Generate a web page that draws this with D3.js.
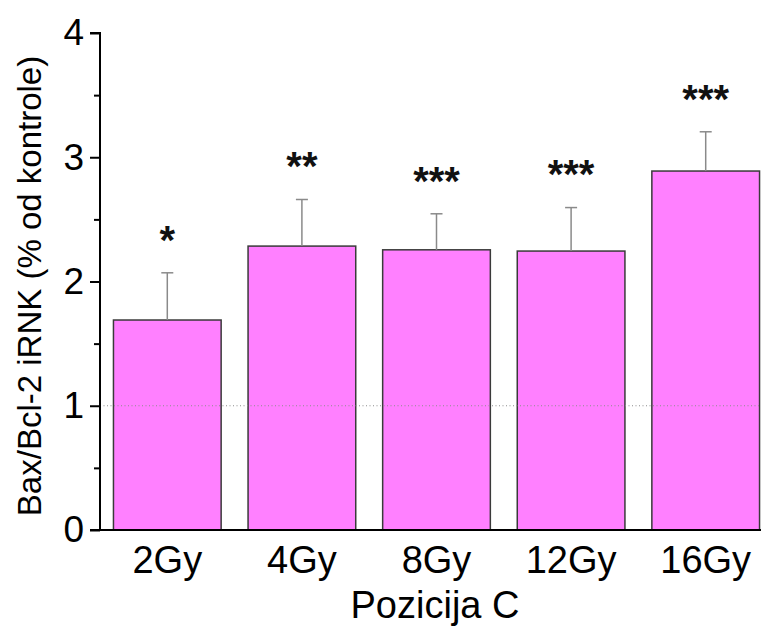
<!DOCTYPE html>
<html>
<head>
<meta charset="utf-8">
<script src="https://cdn.jsdelivr.net/npm/d3@7/dist/d3.min.js"></script>
<style>
  html, body { margin: 0; padding: 0; background: #fff; }
  svg { display: block; font-family: Arial, "Liberation Sans", sans-serif; }
</style>
</head>
<body>
<svg id="chart" width="761" height="628"></svg>
<script>
const categories = ["2Gy", "4Gy", "8Gy", "12Gy", "16Gy"];
const values = [1.69, 2.285, 2.255, 2.245, 2.889];
const errorTops = [2.07, 2.66, 2.545, 2.595, 3.205];
const significance = ["*", "**", "***", "***", "***"];
const yTicks = [0, 1, 2, 3, 4];
const yMinorTicks = [0.5, 1.5, 2.5, 3.5];
const referenceValue = 1;
const xTitle = "Pozicija C";
const yTitle = "Bax/Bcl-2 iRNK (% od kontrole)";

const svg = d3.select("#chart");
const W = 761, H = 628;
const x0 = 100, yBase = 530, yTop = 33;

const x = d3.scaleBand().domain(categories).range([x0, 773]).paddingInner(0.2).paddingOuter(0.1);
const y = d3.scaleLinear().domain([0, 4]).range([yBase, yTop]);

// bars
svg.append("g").selectAll("rect").data(categories).join("rect")
  .attr("x", d => x(d))
  .attr("y", (d, i) => y(values[i]))
  .attr("width", x.bandwidth())
  .attr("height", (d, i) => y(0) - y(values[i]))
  .attr("fill", "#ff80ff")
  .attr("stroke", "#3a3a3a")
  .attr("stroke-width", 1.5);

// error bars (upper)
const eg = svg.append("g").attr("stroke", "#8a8a8a").attr("stroke-width", 1.5);
categories.forEach((c, i) => {
  const cx = x(c) + x.bandwidth() / 2;
  eg.append("line").attr("x1", cx).attr("x2", cx).attr("y1", y(values[i])).attr("y2", y(errorTops[i]));
  eg.append("line").attr("x1", cx - 6).attr("x2", cx + 6).attr("y1", y(errorTops[i])).attr("y2", y(errorTops[i]));
});

// reference dotted line
svg.append("line")
  .attr("x1", x0).attr("x2", W)
  .attr("y1", y(referenceValue)).attr("y2", y(referenceValue))
  .attr("stroke", "#8c8c8c").attr("stroke-width", 1).attr("stroke-dasharray", "1,2.5");

// significance stars
svg.append("g").selectAll("text").data(categories).join("text")
  .attr("x", d => x(d) + x.bandwidth() / 2)
  .attr("y", (d, i) => y(errorTops[i] + 0.34) + 23)
  .attr("text-anchor", "middle")
  .attr("font-size", 40)
  .attr("font-weight", "bold")
  .attr("fill", "#111")
  .text((d, i) => significance[i]);

// y axis
const yAxis = d3.axisLeft(y).tickValues(yTicks).tickFormat(d3.format("d")).tickSize(10).tickPadding(6);
const ya = svg.append("g").attr("transform", `translate(${x0},0)`).call(yAxis);
ya.select(".domain").attr("stroke", "#000").attr("stroke-width", 2).attr("d", `M-10,${yTop}H0V${yBase}`);
ya.selectAll(".tick line").attr("stroke", "#000").attr("stroke-width", 2);
ya.selectAll(".tick text").attr("font-size", 37).attr("fill", "#000").attr("font-family", "Arial, 'Liberation Sans', sans-serif");
const yMinor = d3.axisLeft(y).tickValues(yMinorTicks).tickFormat("").tickSize(6);
const ym = svg.append("g").attr("transform", `translate(${x0},0)`).call(yMinor);
ym.select(".domain").remove();
ym.selectAll(".tick line").attr("stroke", "#000").attr("stroke-width", 2);

// x axis
const xAxis = d3.axisBottom(x).tickSize(0).tickPadding(16);
const xa = svg.append("g").attr("transform", `translate(0,${yBase})`).call(xAxis);
xa.select(".domain").attr("stroke", "#000").attr("stroke-width", 2).attr("d", `M${x0 - 10},0H${W}`);
xa.selectAll(".tick text").attr("font-size", 38).attr("fill", "#000").attr("dy", "0.71em").attr("font-family", "Arial, 'Liberation Sans', sans-serif");

// titles
svg.append("text")
  .attr("x", 435).attr("y", 618)
  .attr("text-anchor", "middle")
  .attr("font-size", 38)
  .attr("fill", "#000")
  .text(xTitle);

svg.append("text")
  .attr("transform", `translate(41,286) rotate(-90)`)
  .attr("text-anchor", "middle")
  .attr("font-size", 33)
  .attr("fill", "#000")
  .text(yTitle);
</script>
</body>
</html>
